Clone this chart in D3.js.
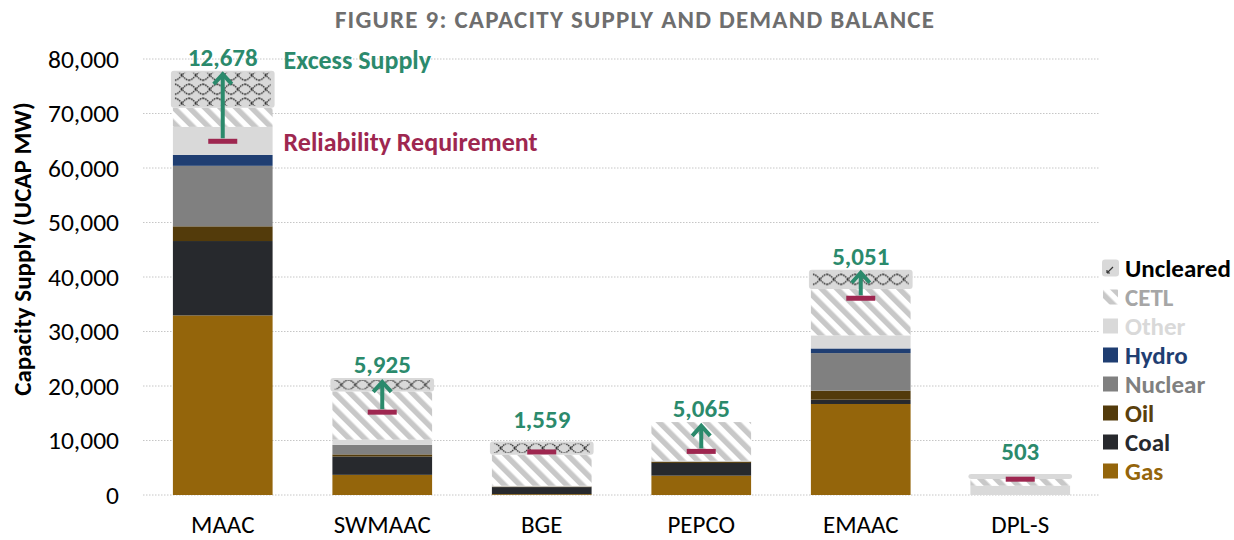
<!DOCTYPE html>
<html>
<head>
<meta charset="utf-8">
<script src="https://cdn.jsdelivr.net/npm/d3@7"></script>
<style>
body { margin: 0; background: #fff; }
svg { font-family: Carlito, Calibri, Lato, sans-serif; }
</style>
</head>
<body>
<script>
// zonas y valores (MW UCAP)
var zonas = ["MAAC", "SWMAAC", "BGE", "PEPCO", "EMAAC", "DPL-S"];
var gas = [32950, 3700, 150, 3550, 16700, 0];
var coal = [13650, 3350, 1300, 2330, 790, 0];
var oil = [2700, 400, 100, 250, 1650, 0];
var nuclear = [11100, 1750, 0, 0, 6900, 0];
var hydro = [2000, 0, 0, 0, 850, 0];
var other = [5150, 950, 150, 150, 2400, 1700];
var cetl = [3500, 8850, 5700, 7100, 8500, 1250];
var uncleared = [6800, 2450, 2400, 0, 3550, 900];
var requisito = [64900, 15200, 7900, 8000, 36100, 2900];
var exceso = [12678, 5925, 1559, 5065, 5051, 503];
var ticksY = [0, 10000, 20000, 30000, 40000, 50000, 60000, 70000, 80000];

var claves = ["Gas", "Coal", "Oil", "Nuclear", "Hydro", "Other", "CETL", "Uncleared"];
var series = [gas, coal, oil, nuclear, hydro, other, cetl, uncleared];
var colores = {
    Gas: "#94650b", Coal: "#27292d", Oil: "#533b0b", Nuclear: "#808080",
    Hydro: "#1f3e72", Other: "#d9d9d9", CETL: "url(#cetl)", Uncleared: "#d9d9d9"
};
var coloresTexto = {
    Gas: "#94650b", Coal: "#27292d", Oil: "#5a400c", Nuclear: "#808080",
    Hydro: "#1f3e72", Other: "#d9d9d9", CETL: "#a6a6a6", Uncleared: "#000"
};
var verde = "#2b8a6c";
var rojo = "#9e2750";

var width = 1234;
var height = 540;

var tabla = zonas.map(function(z, i) {
    var fila = { zona: z };
    claves.forEach(function(k, j) { fila[k] = series[j][i]; });
    return fila;
});

var escalaX = d3.scaleBand()
    .domain(zonas)
    .range([143, 1100])
    .paddingInner(0.375)
    .paddingOuter(0.1875);

var escalaY = d3.scaleLinear()
    .domain([0, 80000])
    .range([495, 59]);

var svg = d3.select("body").append("svg")
    .attr("width", width)
    .attr("height", height);

var defs = svg.append("defs");
var patCetl = defs.append("pattern")
    .attr("id", "cetl")
    .attr("patternUnits", "userSpaceOnUse")
    .attr("width", 11).attr("height", 11)
    .attr("patternTransform", "rotate(-45)");
patCetl.append("rect").attr("width", 11).attr("height", 11).attr("fill", "#fff");
patCetl.append("rect").attr("width", 5.5).attr("height", 11).attr("fill", "#c8c8c8");

// rejilla
svg.append("g")
    .selectAll("line")
    .data(ticksY)
    .join("line")
    .attr("x1", 143).attr("x2", 1100)
    .attr("y1", d => escalaY(d)).attr("y2", d => escalaY(d))
    .attr("stroke", "#c6c6c6")
    .attr("stroke-width", 1)
    .attr("stroke-dasharray", "1.5,1.5");

// eje Y
var ejeY = d3.axisLeft(escalaY)
    .tickValues(ticksY)
    .tickFormat(d3.format(","))
    .tickSize(0)
    .tickPadding(0);
var gEjeY = svg.append("g")
    .attr("transform", "translate(119,0)")
    .call(ejeY)
    .attr("font-family", null)
    .attr("font-size", null);
gEjeY.select(".domain").remove();
gEjeY.selectAll("text")
    .style("font-size", "25.5px")
    .attr("fill", "#000");

// eje X
var ejeX = d3.axisBottom(escalaX).tickSize(0).tickPadding(0);
var gEjeX = svg.append("g")
    .attr("transform", "translate(0,533)")
    .call(ejeX)
    .attr("font-family", null)
    .attr("font-size", null);
gEjeX.select(".domain").remove();
gEjeX.selectAll("text")
    .attr("dy", 0)
    .style("font-size", "25px")
    .attr("fill", "#000");

var pila = d3.stack().keys(claves)(tabla);

// segmentos apilados
pila.forEach(function(capa) {
    if (capa.key === "Uncleared") return;
    svg.append("g")
        .selectAll("rect")
        .data(capa.filter(d => d[1] > d[0]))
        .join("rect")
        .attr("x", d => escalaX(d.data.zona))
        .attr("width", escalaX.bandwidth())
        .attr("y", d => escalaY(d[1]))
        .attr("height", d => escalaY(d[0]) - escalaY(d[1]))
        .attr("fill", colores[capa.key]);
});

// uncleared: caja redondeada con trama
var capaUnc = pila[claves.indexOf("Uncleared")];
capaUnc.forEach(function(d, i) {
    if (d[1] <= d[0]) return;
    var x0 = escalaX(d.data.zona);
    var y0 = escalaY(d[1]);
    var y1 = escalaY(d[0]);
    var medio = (y0 + y1) / 2;
    var pat = defs.append("pattern")
        .attr("id", "unc" + i)
        .attr("patternUnits", "userSpaceOnUse")
        .attr("width", 14).attr("height", 14)
        .attr("patternTransform", "translate(" + (x0 + 2) + "," + (medio - 7) + ")");
    pat.append("path")
        .attr("d", "M0,2 C5,2 9,12 14,12 M0,12 C5,12 9,2 14,2")
        .attr("fill", "none")
        .attr("stroke", "#222")
        .attr("stroke-width", 1.3)
        .attr("stroke-dasharray", "1.6,0.8");
    svg.append("rect")
        .attr("x", x0 - 2)
        .attr("width", escalaX.bandwidth() + 4)
        .attr("y", y0)
        .attr("height", y1 - y0)
        .attr("rx", 3)
        .attr("fill", colores.Uncleared);
    if (y1 - y0 > 6) {
        svg.append("rect")
            .attr("x", x0 + 2)
            .attr("width", escalaX.bandwidth() - 4)
            .attr("y", y0 + 2)
            .attr("height", y1 - y0 - 4)
            .attr("fill", "url(#unc" + i + ")");
    }
});

// flechas de exceso
zonas.forEach(function(z, i) {
    if (exceso[i] < 2000) return;
    var cx = escalaX(z) + escalaX.bandwidth() / 2;
    var yTop = escalaY(requisito[i] + exceso[i]);
    var yBase = escalaY(requisito[i]) - 3;
    svg.append("line")
        .attr("x1", cx).attr("x2", cx)
        .attr("y1", yBase).attr("y2", yTop + 3)
        .attr("stroke", verde)
        .attr("stroke-width", 4);
    svg.append("polyline")
        .attr("points", [[cx - 9, yTop + 12], [cx, yTop + 2], [cx + 9, yTop + 12]].join(" "))
        .attr("fill", "none")
        .attr("stroke", verde)
        .attr("stroke-width", 4);
});

// requisito de fiabilidad
svg.append("g")
    .selectAll("rect")
    .data(zonas)
    .join("rect")
    .attr("x", d => escalaX(d) + escalaX.bandwidth() / 2 - 14.5)
    .attr("width", 29)
    .attr("y", (d, i) => escalaY(requisito[i]) - 2.5)
    .attr("height", 5)
    .attr("fill", rojo);

// etiquetas de exceso
svg.append("g")
    .selectAll("text")
    .data(zonas)
    .join("text")
    .attr("x", d => escalaX(d) + escalaX.bandwidth() / 2)
    .attr("y", function(d, i) {
        var total = d3.sum(series, s => s[i]);
        var arriba = Math.min(escalaY(requisito[i] + exceso[i]), escalaY(total));
        return arriba - (exceso[i] < 2000 ? 14 : 5);
    })
    .attr("text-anchor", "middle")
    .attr("fill", verde)
    .style("font-size", "25px")
    .style("font-weight", "bold")
    .text((d, i) => d3.format(",")(exceso[i]));

// anotaciones junto a MAAC
var xAnot = escalaX("MAAC") + escalaX.bandwidth() + 11;
svg.append("text")
    .attr("x", xAnot)
    .attr("y", escalaY(requisito[0] + exceso[0]) - 3)
    .attr("fill", verde)
    .style("font-size", "26px")
    .style("font-weight", "bold")
    .text("Excess Supply");
svg.append("text")
    .attr("x", xAnot)
    .attr("y", escalaY(requisito[0]) + 10)
    .attr("fill", rojo)
    .style("font-size", "26px")
    .style("font-weight", "bold")
    .text("Reliability Requirement");

// título
svg.append("text")
    .attr("x", 635)
    .attr("y", 28)
    .attr("text-anchor", "middle")
    .attr("fill", "#6e6e6e")
    .style("font-size", "25px")
    .style("font-weight", "bold")
    .style("letter-spacing", "1.2px")
    .text("FIGURE 9: CAPACITY SUPPLY AND DEMAND BALANCE");

// título eje Y
svg.append("text")
    .attr("transform", "translate(31,249) rotate(-90)")
    .attr("text-anchor", "middle")
    .attr("fill", "#000")
    .style("font-size", "25px")
    .style("font-weight", "bold")
    .text("Capacity Supply (UCAP MW)");

// leyenda
var ordenLeyenda = claves.slice().reverse();
var gLey = svg.append("g").attr("transform", "translate(1102,268)");
var item = gLey.selectAll("g")
    .data(ordenLeyenda)
    .join("g")
    .attr("transform", (d, i) => "translate(0," + (i * 29) + ")");
item.each(function(d) {
    var g = d3.select(this);
    if (d === "Uncleared") {
        g.append("rect").attr("x", 0).attr("y", -8.5).attr("width", 17).attr("height", 17)
            .attr("rx", 3).attr("fill", "#d9d9d9");
        g.append("path").attr("d", "M5,5 L11,-1 M5,5 L5,2 M5,5 L8,5")
            .attr("stroke", "#333").attr("stroke-width", 1.2).attr("fill", "none");
    } else {
        g.append("rect").attr("x", 1).attr("y", -7.5).attr("width", 15).attr("height", 15)
            .attr("fill", colores[d]);
    }
});
item.append("text")
    .attr("x", 23)
    .attr("y", 0)
    .attr("dy", "0.36em")
    .attr("fill", d => coloresTexto[d])
    .style("font-size", "25px")
    .style("font-weight", "bold")
    .text(d => d);
</script>
</body>
</html>
